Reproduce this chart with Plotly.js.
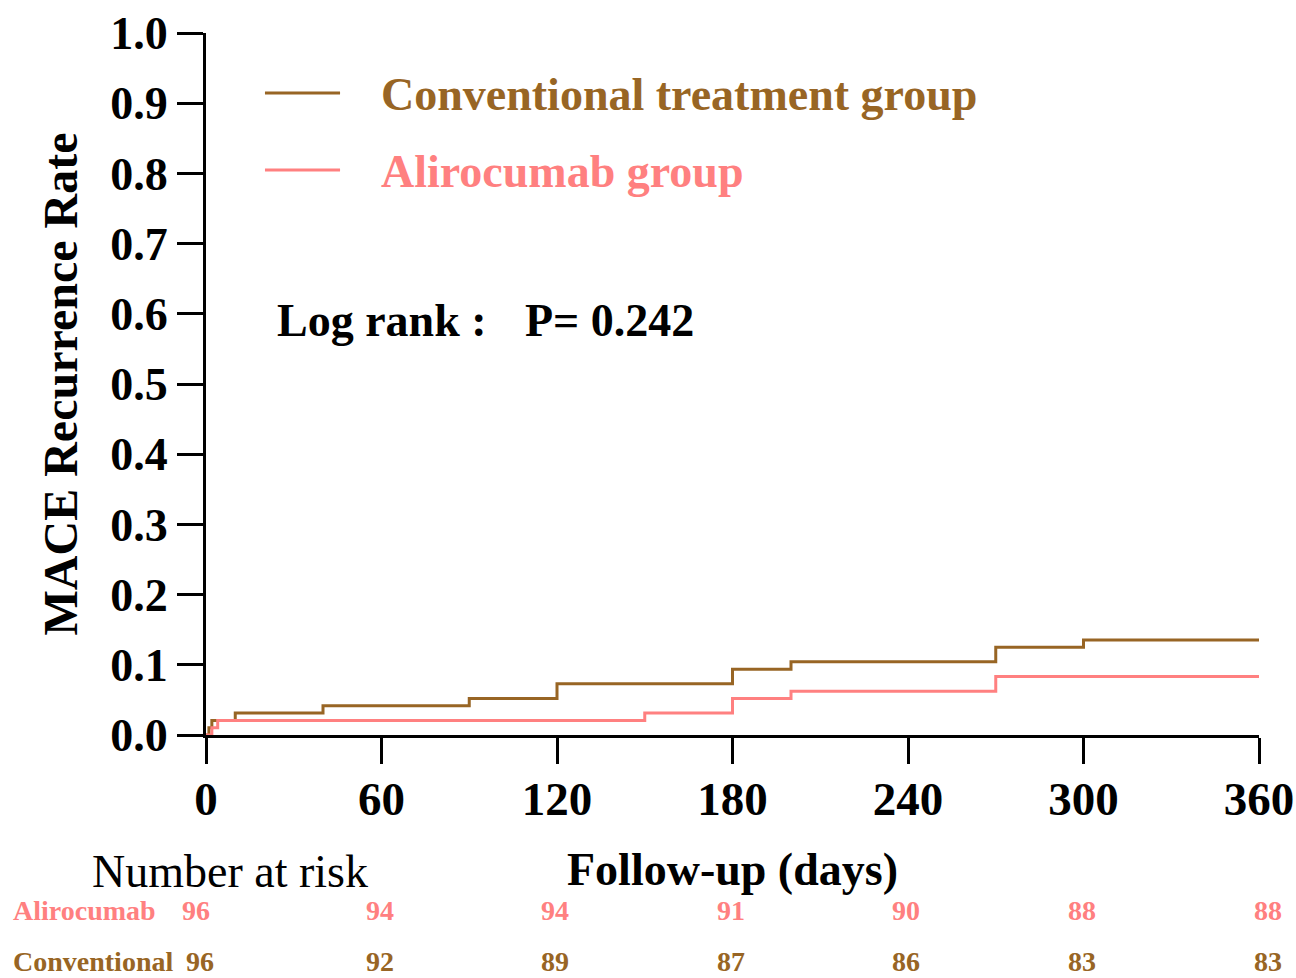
<!DOCTYPE html>
<html>
<head>
<meta charset="utf-8">
<script src="https://cdn.plot.ly/plotly-3.0.1.min.js"></script>
<style>html,body{margin:0;padding:0;background:#fff;}#chart{width:1296px;height:978px;}</style>
</head>
<body>
<div id="chart"></div>
<script>
// ---- data ----
const convDays  = [0, 1, 2, 10, 40, 90, 120, 180, 200, 270, 300, 360];
const convRate  = [0, 0.0104, 0.0208, 0.0313, 0.0417, 0.0521, 0.0729, 0.0938, 0.1042, 0.125, 0.1354, 0.1354];
const aliDays   = [0, 2, 4, 150, 180, 200, 270, 360];
const aliRate   = [0, 0.0104, 0.0208, 0.0313, 0.0521, 0.0625, 0.0833, 0.0833];
const riskDays  = [0, 60, 120, 180, 240, 300, 360];
const riskAli   = [96, 94, 94, 91, 90, 88, 88];
const riskConv  = [96, 92, 89, 87, 86, 83, 83];
const yTicks    = [0, 0.1, 0.2, 0.3, 0.4, 0.5, 0.6, 0.7, 0.8, 0.9, 1.0];
const seriesNames = ["Conventional treatment group", "Alirocumab group"];
const rowLabels = ["Alirocumab", "Conventional"];
const pValueText = "P= 0.242";

const BROWN = "#986524";
const PINK = "#FF8080";
const FONT = "Liberation Serif, Times New Roman, serif";

const traces = [
  {x: convDays, y: convRate, mode: "lines", line: {shape: "hv", color: BROWN, width: 3}, name: seriesNames[0], showlegend: false},
  {x: aliDays, y: aliRate, mode: "lines", line: {shape: "hv", color: PINK, width: 3}, name: seriesNames[1], showlegend: false}
];

const ann = [];
const shapes = [];
// legend (drawn manually)
const legY = [0.9145, 0.8048];
const legCol = [BROWN, PINK];
for (let i = 0; i < 2; i++) {
  shapes.push({type: "line", xref: "paper", yref: "paper", x0: 0.056, x1: 0.1273, y0: legY[i], y1: legY[i], line: {color: legCol[i], width: 3}});
  ann.push({xref: "paper", yref: "paper", x: 0.1643, y: legY[i] - 0.002, xanchor: "left", yanchor: "middle", showarrow: false,
    text: seriesNames[i], font: {family: FONT, size: 46, color: legCol[i], weight: "bold"}});
}
ann.push({xref: "paper", yref: "paper", x: 0.0655, y: 0.591, xanchor: "left", yanchor: "middle", showarrow: false,
  text: "Log rank :", font: {family: FONT, size: 46, color: "#000", weight: "bold"}});
ann.push({xref: "paper", yref: "paper", x: 0.3010, y: 0.591, xanchor: "left", yanchor: "middle", showarrow: false,
  text: pValueText, font: {family: FONT, size: 46, color: "#000", weight: "bold"}});
// number at risk
ann.push({xref: "paper", yref: "paper", x: -0.1102, y: -0.195, xanchor: "left", yanchor: "middle", showarrow: false,
  text: "Number at risk", font: {family: FONT, size: 46, color: "#000"}});
const rowY = [-0.2507, -0.3225];
const rowVals = [riskAli, riskConv];
const rowCol = [PINK, BROWN];
for (let r = 0; r < 2; r++) {
  ann.push({xref: "paper", yref: "paper", x: -0.1853, y: rowY[r], xanchor: "left", yanchor: "middle", showarrow: false,
    text: rowLabels[r], font: {family: FONT, size: 28, color: rowCol[r], weight: "bold"}});
  riskDays.forEach((d, i) => {
    let shift = 0;
    if (i === 0) shift = (r === 0 ? -10 : -6);
    if (i === riskDays.length - 1) shift = 9;
    if (i > 0 && i < riskDays.length - 1) shift = -2;
    ann.push({xref: "x", yref: "paper", x: d, y: rowY[r], xanchor: "center", yanchor: "middle", showarrow: false, xshift: shift,
      text: String(rowVals[r][i]), font: {family: FONT, size: 28, color: rowCol[r], weight: "bold"}});
  });
}

const layout = {
  width: 1296, height: 978,
  margin: {l: 206, r: 37, t: 33, b: 243},
  paper_bgcolor: "#fff", plot_bgcolor: "#fff",
  showlegend: false,
  xaxis: {
    range: [0, 360], tickvals: riskDays, ticktext: riskDays.map(String),
    showline: true, linecolor: "#000", linewidth: 3, showgrid: false, zeroline: false,
    ticks: "outside", ticklen: 26, tickwidth: 3, tickcolor: "#000", ticklabelstandoff: -5,
    tickfont: {family: FONT, size: 47, color: "#000", weight: "bold"},
    title: {text: "Follow-up (days)", font: {family: FONT, size: 46, color: "#000", weight: "bold"}, standoff: 29}
  },
  yaxis: {
    range: [0, 1.0], tickvals: yTicks, ticktext: yTicks.map(v => v.toFixed(1)),
    showline: true, linecolor: "#000", linewidth: 3, showgrid: false, zeroline: false,
    ticks: "outside", ticklen: 26, tickwidth: 3, tickcolor: "#000",
    tickfont: {family: FONT, size: 46, color: "#000", weight: "bold"},
    title: {text: "MACE Recurrence Rate", font: {family: FONT, size: 48, color: "#000", weight: "bold"}, standoff: 18}
  },
  annotations: ann,
  shapes: shapes
};

Plotly.newPlot("chart", traces, layout, {displayModeBar: false, staticPlot: true});
</script>
</body>
</html>
